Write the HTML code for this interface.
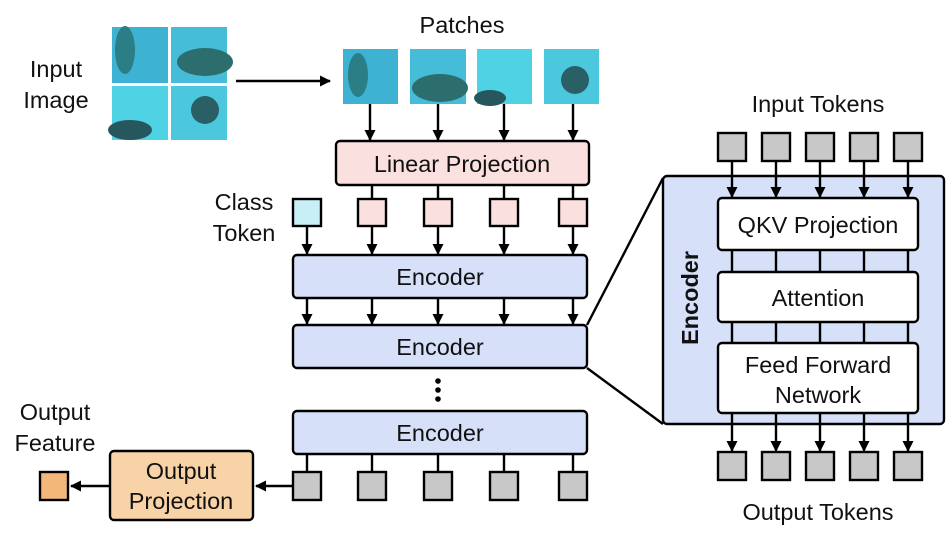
<!DOCTYPE html>
<html><head><meta charset="utf-8"><style>
html,body{margin:0;padding:0;background:#fff;}
text{font-family:"Liberation Sans",sans-serif;font-size:23.5px;fill:#111;}
</style></head><body>
<svg width="947" height="536" viewBox="0 0 947 536" xmlns="http://www.w3.org/2000/svg">
<defs>
<marker id="a" markerWidth="12" markerHeight="12" refX="10" refY="6" orient="auto" markerUnits="userSpaceOnUse">
<path d="M0,0.5 L11,6 L0,11.5 z" fill="#000"/></marker>
</defs>
<g>
<rect x="112" y="27" width="56" height="56" fill="#3eb2d2"/>
<rect x="171" y="27" width="56" height="56" fill="#45bcd8"/>
<rect x="112" y="86" width="56" height="54" fill="#4fd2e4"/>
<rect x="171" y="86" width="56" height="54" fill="#4cc8de"/>
<ellipse cx="125" cy="50" rx="10" ry="24" fill="#2b7d86"/>
<ellipse cx="205" cy="62" rx="28" ry="14" fill="#2c6d6e"/>
<ellipse cx="130" cy="130" rx="22" ry="10" fill="#27575e"/>
<ellipse cx="205" cy="110" rx="14" ry="14" fill="#2b5f66"/>
<rect x="343" y="49" width="55" height="55" fill="#3eb2d2"/><ellipse cx="358" cy="75" rx="10" ry="22" fill="#2b7d86"/>
<rect x="410" y="49" width="56" height="55" fill="#45bcd8"/><ellipse cx="440" cy="88" rx="28" ry="14" fill="#2c6d6e"/>
<rect x="477" y="49" width="55" height="55" fill="#4fd2e4"/><ellipse cx="490" cy="98" rx="16" ry="8" fill="#27575e"/>
<rect x="544" y="49" width="55" height="55" fill="#4cc8de"/><ellipse cx="575" cy="80" rx="14" ry="14" fill="#2b5f66"/>
</g>
<g stroke="#000" stroke-width="2.4" fill="none">
<line x1="236" y1="81" x2="330" y2="81" marker-end="url(#a)"/>
<line x1="370" y1="104" x2="370" y2="140" marker-end="url(#a)"/>
<line x1="438" y1="104" x2="438" y2="140" marker-end="url(#a)"/>
<line x1="504" y1="104" x2="504" y2="140" marker-end="url(#a)"/>
<line x1="573" y1="104" x2="573" y2="140" marker-end="url(#a)"/>
<rect x="336" y="141" width="253" height="44" rx="4" fill="#fbe0e0"/>
<line x1="372" y1="185" x2="372" y2="199"/><line x1="438" y1="185" x2="438" y2="199"/><line x1="504" y1="185" x2="504" y2="199"/><line x1="573" y1="185" x2="573" y2="199"/>
<rect x="293" y="199" width="28" height="27" fill="#c8eef6"/>
<rect x="358" y="199" width="28" height="27" fill="#fbe0e0"/>
<rect x="424" y="199" width="28" height="27" fill="#fbe0e0"/>
<rect x="490" y="199" width="28" height="27" fill="#fbe0e0"/>
<rect x="559" y="199" width="28" height="27" fill="#fbe0e0"/>
<g marker-end="url(#a)">
<line x1="307" y1="226" x2="307" y2="254"/><line x1="372" y1="226" x2="372" y2="254"/><line x1="438" y1="226" x2="438" y2="254"/><line x1="504" y1="226" x2="504" y2="254"/><line x1="573" y1="226" x2="573" y2="254"/>
<line x1="307" y1="298" x2="307" y2="324"/><line x1="372" y1="298" x2="372" y2="324"/><line x1="438" y1="298" x2="438" y2="324"/><line x1="504" y1="298" x2="504" y2="324"/><line x1="573" y1="298" x2="573" y2="324"/>
</g>
<rect x="293" y="255" width="294" height="43" rx="4" fill="#d6e0f8"/>
<rect x="293" y="325" width="294" height="43" rx="4" fill="#d6e0f8"/>
<rect x="293" y="411" width="294" height="43" rx="4" fill="#d6e0f8"/>
<line x1="307" y1="454" x2="307" y2="472"/><line x1="372" y1="454" x2="372" y2="472"/><line x1="438" y1="454" x2="438" y2="472"/><line x1="504" y1="454" x2="504" y2="472"/><line x1="573" y1="454" x2="573" y2="472"/>
<rect x="293" y="472" width="28" height="28" fill="#c8c8c8"/>
<rect x="358" y="472" width="28" height="28" fill="#c8c8c8"/>
<rect x="424" y="472" width="28" height="28" fill="#c8c8c8"/>
<rect x="490" y="472" width="28" height="28" fill="#c8c8c8"/>
<rect x="559" y="472" width="28" height="28" fill="#c8c8c8"/>
<rect x="110" y="451" width="143" height="69" rx="4" fill="#f9d3a8"/>
<line x1="293" y1="486" x2="256" y2="486" marker-end="url(#a)"/>
<line x1="110" y1="486" x2="71" y2="486" marker-end="url(#a)"/>
<rect x="40" y="472" width="28" height="28" fill="#f4b77a"/>
<line x1="587" y1="325" x2="663" y2="178"/>
<line x1="587" y1="368" x2="663" y2="424"/>
<rect x="663" y="176" width="281" height="248" rx="4" fill="#d6e0f8"/>
<rect x="718" y="133" width="28" height="28" fill="#c8c8c8"/>
<rect x="762" y="133" width="28" height="28" fill="#c8c8c8"/>
<rect x="806" y="133" width="28" height="28" fill="#c8c8c8"/>
<rect x="850" y="133" width="28" height="28" fill="#c8c8c8"/>
<rect x="894" y="133" width="28" height="28" fill="#c8c8c8"/>
<g marker-end="url(#a)">
<line x1="732" y1="161" x2="732" y2="197"/><line x1="776" y1="161" x2="776" y2="197"/><line x1="820" y1="161" x2="820" y2="197"/><line x1="864" y1="161" x2="864" y2="197"/><line x1="908" y1="161" x2="908" y2="197"/>
<line x1="732" y1="413" x2="732" y2="451"/><line x1="776" y1="413" x2="776" y2="451"/><line x1="820" y1="413" x2="820" y2="451"/><line x1="864" y1="413" x2="864" y2="451"/><line x1="908" y1="413" x2="908" y2="451"/>
</g>
<line x1="732" y1="250" x2="732" y2="343"/><line x1="776" y1="250" x2="776" y2="343"/><line x1="820" y1="250" x2="820" y2="343"/><line x1="864" y1="250" x2="864" y2="343"/><line x1="908" y1="250" x2="908" y2="343"/>
<rect x="718" y="198" width="200" height="52" rx="4" fill="#fff"/>
<rect x="718" y="272" width="200" height="50" rx="4" fill="#fff"/>
<rect x="718" y="343" width="200" height="70" rx="4" fill="#fff"/>
<rect x="718" y="452" width="28" height="28" fill="#c8c8c8"/>
<rect x="762" y="452" width="28" height="28" fill="#c8c8c8"/>
<rect x="806" y="452" width="28" height="28" fill="#c8c8c8"/>
<rect x="850" y="452" width="28" height="28" fill="#c8c8c8"/>
<rect x="894" y="452" width="28" height="28" fill="#c8c8c8"/>
</g>
<circle cx="438" cy="381" r="2.8" fill="#000"/><circle cx="438" cy="390" r="2.8" fill="#000"/><circle cx="438" cy="399" r="2.8" fill="#000"/>
<g text-anchor="middle">
<text x="56" y="77">Input</text><text x="56" y="108">Image</text>
<text x="462" y="33">Patches</text>
<text x="462" y="172">Linear Projection</text>
<text x="244" y="210">Class</text><text x="244" y="241">Token</text>
<text x="440" y="285">Encoder</text>
<text x="440" y="355">Encoder</text>
<text x="440" y="441">Encoder</text>
<text x="55" y="420">Output</text><text x="55" y="451">Feature</text>
<text x="181" y="479">Output</text><text x="181" y="509">Projection</text>
<text x="818" y="112">Input Tokens</text>
<text x="818" y="520">Output Tokens</text>
<text x="818" y="233">QKV Projection</text>
<text x="818" y="306">Attention</text>
<text x="818" y="373">Feed Forward</text><text x="818" y="403">Network</text>
<text x="0" y="0" font-weight="bold" transform="translate(698,298) rotate(-90)">Encoder</text>
</g>
</svg>
</body></html>
